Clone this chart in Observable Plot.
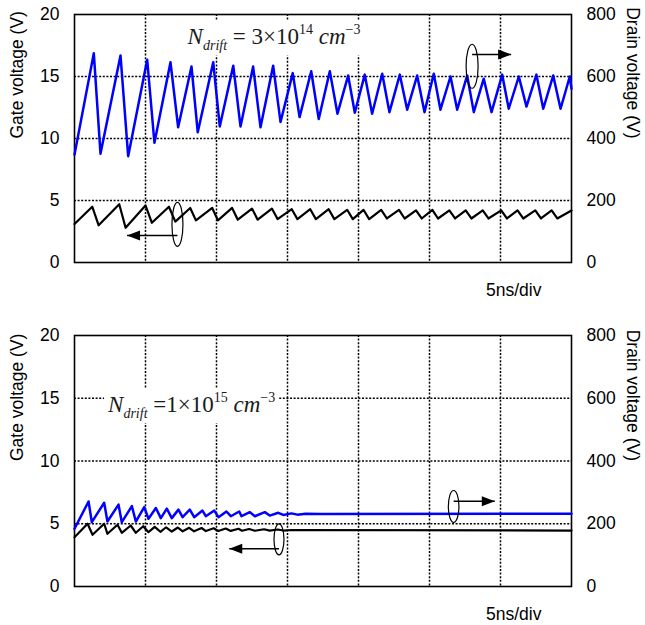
<!DOCTYPE html>
<html><head><meta charset="utf-8">
<script src="https://cdn.jsdelivr.net/npm/d3@7"></script>
<script src="https://cdn.jsdelivr.net/npm/@observablehq/plot@0.6"></script>
<style>
body{margin:0;background:#fff;}
#chart svg{display:block;}
</style>
</head><body><div id="chart"></div>
<script>
// ---------- data ----------
const gateTicks = [0, 5, 10, 15, 20];          // left axis (V)
const drainPerGate = 40;                        // 800 V right axis <-> 20 V left axis
const gridTimes = [5, 10, 15, 20, 25, 30];      // 5 ns/div
const gridGate = [5, 10, 15];

// Top panel: N_drift = 3e14
const topDrainT = [0, 1.36, 1.83, 3.24, 3.78, 5.12, 5.63, 6.76, 7.30, 8.24, 8.68, 9.77, 10.23, 11.18, 11.69, 12.58, 13.10, 13.99, 14.51, 15.37, 15.85, 16.67, 17.20, 17.98, 18.52, 19.27, 19.74, 20.44, 20.96, 21.67, 22.18, 22.91, 23.43, 24.13, 24.65, 25.30, 25.77, 26.48, 26.95, 27.65, 28.12, 28.82, 29.37, 30.12, 30.58, 31.29, 31.83, 32.53, 33.01, 33.71, 34.23, 34.88, 35.0];
const topDrainV = [348, 675, 351, 668, 343, 654, 386, 646, 436, 632, 420, 646, 439, 635, 439, 632, 436, 635, 453, 611, 469, 617, 463, 617, 480, 603, 483, 606, 480, 609, 485, 606, 493, 603, 485, 609, 493, 600, 493, 603, 485, 593, 485, 606, 496, 600, 503, 606, 496, 603, 496, 600, 560];
const topGateT = [0, 1.25, 1.7, 3.15, 3.6, 5.0, 5.45, 6.65, 7.1, 8.15, 8.55, 9.7, 10.1, 11.1, 11.5, 12.5, 12.9, 13.9, 14.3, 15.3, 15.7, 16.6, 17.0, 17.9, 18.3, 19.2, 19.6, 20.35, 20.75, 21.6, 22.0, 22.85, 23.25, 24.05, 24.45, 25.2, 25.6, 26.4, 26.8, 27.55, 27.95, 28.75, 29.15, 30.05, 30.45, 31.2, 31.6, 32.45, 32.85, 33.6, 34.0, 35.0];
const topGateV = [3.1, 4.5, 3.0, 4.7, 2.8, 4.6, 3.2, 4.5, 3.3, 4.4, 3.4, 4.4, 3.4, 4.4, 3.45, 4.35, 3.45, 4.35, 3.5, 4.3, 3.5, 4.3, 3.5, 4.3, 3.5, 4.25, 3.5, 4.25, 3.5, 4.25, 3.55, 4.25, 3.55, 4.2, 3.55, 4.25, 3.55, 4.2, 3.55, 4.2, 3.55, 4.2, 3.55, 4.2, 3.55, 4.2, 3.55, 4.2, 3.55, 4.2, 3.55, 4.2];

// Bottom panel: N_drift = 1e15
const botDrainT = [0, 0.99, 1.22, 2.09, 2.32, 3.10, 3.33, 4.04, 4.32, 4.91, 5.21, 5.73, 6.08, 6.50, 6.85, 7.32, 7.61, 8.12, 8.43, 9.01, 9.25, 9.84, 10.14, 10.70, 11.01, 11.60, 11.76, 12.35, 12.70, 13.40, 13.75, 14.35, 14.70, 15.28, 15.70, 16.27, 17.32, 35];
const botDrainV = [184, 271, 205, 267, 207, 261, 205, 256, 207, 253, 216, 250, 218, 248, 218, 245, 221, 245, 221, 242, 224, 242, 221, 239, 224, 239, 224, 237, 224, 237, 226, 235, 228, 233, 229, 232, 231, 232];
const botGateT = [0, 0.92, 1.27, 2.09, 2.32, 3.03, 3.33, 3.96, 4.32, 4.84, 5.21, 5.65, 6.05, 6.45, 6.85, 7.28, 7.62, 8.08, 8.42, 8.95, 9.25, 9.8, 10.12, 10.65, 11.0, 11.55, 11.8, 12.3, 12.7, 13.35, 13.75, 14.3, 14.7, 15.3, 35];
const botGateV = [3.93, 5.0, 4.12, 5.0, 4.2, 4.92, 4.28, 4.86, 4.28, 4.8, 4.33, 4.75, 4.36, 4.72, 4.38, 4.7, 4.4, 4.68, 4.4, 4.66, 4.42, 4.64, 4.42, 4.62, 4.43, 4.6, 4.44, 4.58, 4.44, 4.56, 4.45, 4.54, 4.46, 4.5, 4.46];

// ---------- helpers ----------
function ellipseSymbol(rx, ry) {
  const k = 0.5523;
  return {draw(c) {
    c.moveTo(rx, 0);
    c.bezierCurveTo(rx, ry * k, rx * k, ry, 0, ry);
    c.bezierCurveTo(-rx * k, ry, -rx, ry * k, -rx, 0);
    c.bezierCurveTo(-rx, -ry * k, -rx * k, -ry, 0, -ry);
    c.bezierCurveTo(rx * k, -ry, rx, -ry * k, rx, 0);
    c.closePath();
  }};
}
function headSymbol(dir) {
  return {draw(c) {
    c.moveTo(0, 0);
    c.lineTo(-13 * dir, -5);
    c.lineTo(-13 * dir, 5);
    c.closePath();
  }};
}

function panel(cfg) {
  const drain = cfg.drainT.map((t, i) => ({t, v: cfg.drainV[i] / drainPerGate}));
  const gate = cfg.gateT.map((t, i) => ({t, v: cfg.gateV[i]}));
  const marks = [
    Plot.ruleX(gridTimes, {stroke: "#000", strokeWidth: 1.5, strokeDasharray: "2,1.6"}),
    Plot.ruleY(gridGate, {stroke: "#000", strokeWidth: 1.5, strokeDasharray: "2,1.6"}),
    Plot.frame({stroke: "#000", strokeWidth: 1.6}),
    Plot.axisY({anchor: "left", ticks: gateTicks, tickSize: 0, tickPadding: 15, label: null}),
    Plot.axisY({anchor: "right", ticks: gateTicks, tickSize: 0, tickPadding: 15, tickFormat: d => d * drainPerGate, label: null}),
    Plot.text(["Gate voltage (V)"], {frameAnchor: "left", rotate: -90, dx: -57, lineAnchor: "middle", text: d => d}),
    Plot.text(["Drain voltage (V)"], {frameAnchor: "right", rotate: 90, dx: 61, lineAnchor: "middle", text: d => d}),
    Plot.text(["5ns/div"], {frameAnchor: "bottom-right", dx: -30, dy: 28, textAnchor: "end", lineAnchor: "middle", text: d => d}),
    Plot.line(gate, {x: "t", y: "v", stroke: "#000", strokeWidth: 2.2, strokeLinejoin: "round"}),
    Plot.line(drain, {x: "t", y: "v", stroke: "#0000ff", strokeWidth: 2.5, strokeLinejoin: "round"}),
  ];
  for (const a of cfg.arrows) {
    marks.push(Plot.link([a], {x1: "t0", y1: "y", x2: "t1", y2: "y", stroke: "#000", strokeWidth: 1.5}));
    marks.push(Plot.dot([a], {x: "t1", y: "y", symbol: headSymbol(a.t1 > a.t0 ? 1 : -1), fill: "#000", stroke: null, r: 5}));
    marks.push(Plot.dot([a], {x: "t0", y: "ey", symbol: ellipseSymbol(a.rx, a.ry), fill: "none", stroke: "#000", strokeWidth: 1.2, r: 5}));
  }
  const plot = Plot.plot({
    width: 645, height: cfg.height,
    marginLeft: 74, marginRight: 74, marginTop: cfg.mt, marginBottom: cfg.mb,
    x: {domain: [0, 35], axis: null},
    y: {domain: [0, 20], axis: null},
    style: {fontFamily: "'Liberation Sans', Arial, sans-serif", fontSize: "17.5px", color: "#000", background: "#fff"},
    marks
  });
  // N_drift annotation (rich text) inserted below the waveforms
  const sx = plot.scale("x"), sy = plot.scale("y");
  const svg = d3.select(plot);
  const g = svg.insert("g", 'g[aria-label="line"]');
  const rect = g.append("rect").attr("fill", "#fff");
  const txt = g.append("text")
    .attr("x", sx.apply(cfg.note.t)).attr("y", sy.apply(cfg.note.v))
    .attr("text-anchor", "start")
    .attr("font-family", "'Liberation Serif', 'Times New Roman', serif")
    .attr("font-size", 23).attr("fill", "#1a1a1a");
  txt.append("tspan").attr("font-style", "italic").text("N");
  txt.append("tspan").attr("font-style", "italic").attr("font-size", 14).attr("dy", 6).text("drift");
  txt.append("tspan").attr("dy", -6).text(cfg.note.eq + cfg.note.m + "×10");
  txt.append("tspan").attr("font-size", 14).attr("dy", -10).text(cfg.note.e);
  txt.append("tspan").attr("dy", 10).attr("font-style", "italic").text(" cm");
  txt.append("tspan").attr("font-size", 14).attr("dy", -10).text("−3");
  cfg.after = () => {
    const b = txt.node().getBBox();
    rect.attr("x", b.x - 3).attr("y", b.y - 2).attr("width", b.width + 6).attr("height", b.height + 4);
  };
  return plot;
}

const topCfg = {
  drainT: topDrainT, drainV: topDrainV, gateT: topGateT, gateV: topGateV,
  height: 312, mt: 14, mb: 50,
  note: {t: 8.0, v: 17.55, eq: " = ", m: "3", e: "14"},
  arrows: [
    {t0: 7.25, t1: 3.7, y: 2.18, ey: 3.08, rx: 5.5, ry: 22},
    {t0: 28.0, t1: 30.75, y: 671 / drainPerGate, ey: 633 / drainPerGate, rx: 6, ry: 22}
  ]
};
const botCfg = {
  drainT: botDrainT, drainV: botDrainV, gateT: botGateT, gateV: botGateV,
  height: 313, mt: 23, mb: 39,
  note: {t: 2.4, v: 13.86, eq: " =", m: "1", e: "15"},
  arrows: [
    {t0: 14.4, t1: 10.9, y: 3.0, ey: 3.76, rx: 5, ry: 15.5},
    {t0: 26.7, t1: 29.6, y: 272 / drainPerGate, ey: 255 / drainPerGate, rx: 5.3, ry: 16}
  ]
};
const chart = document.getElementById("chart");
chart.append(panel(topCfg));
chart.append(panel(botCfg));
topCfg.after(); botCfg.after();
</script>
</body></html>
